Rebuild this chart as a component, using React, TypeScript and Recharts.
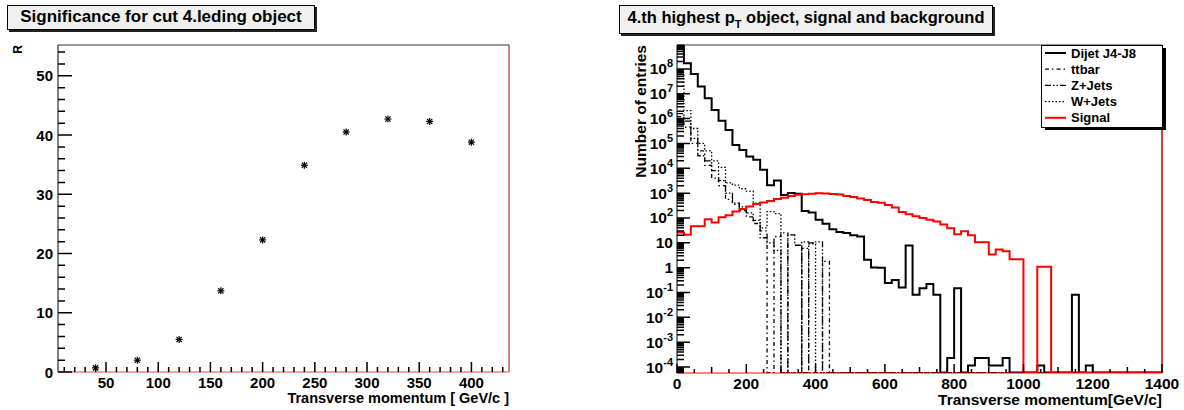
import React from "react";
import {
  ScatterChart,
  Scatter,
  LineChart,
  Line,
  XAxis,
  YAxis,
  ReferenceLine,
  Legend,
} from "recharts";

const FONT = '"Liberation Sans", Arial, Helvetica, sans-serif';

function range(from: number, to: number, step: number): number[] {
  const out: number[] = [];
  for (let v = from; v <= to + 1e-9; v += step) out.push(v);
  return out;
}

// significance scan vs. pT cut
const cutPt = [40, 80, 120, 160, 200, 240, 280, 320, 360, 400];
const significance = [0.7, 2.0, 5.5, 13.7, 22.3, 34.9, 40.5, 42.7, 42.3, 38.8];

const SIG_X_DOMAIN: [number, number] = [4, 436];
const SIG_Y_DOMAIN: [number, number] = [0, 55.2];
const sigXTicks = range(10, 430, 10);
const sigYTicks = range(0, 54, 2);

// 4th leading object pT, 20 GeV bins from 0 to 1400 (missing entries = empty bins)
const BIN_WIDTH = 20;
const N_BINS = 70;
const dijet = [
  2.5e9, 1.7e8, 6.2e7, 1.95e7, 6.6e6, 2.2e6, 8.3e5, 3.5e5, 8.7e4, 5.5e4,
  3.0e4, 2.2e4, 8.7e3, 2.1e3, 3.2e3, 850, 1020, 950, 190, 165,
  85, 58, 35, 27.5, 25, 20, 18, 2.1, 1.02, 1.0,
  0.24, 0.32, 0.16, 7.8, 0.081, 0.15, 0.22, 0.081, 0, 2.3e-4,
  0.15, 0, 1.15e-4, 2.3e-4, 2.3e-4, 1.15e-4, 1.15e-4, 2.3e-4, 0, 0,
  0, 0, 1.15e-4, 0, 0, 0, 0, 0.081, 0, 1.15e-4,
];
const ttbar = [
  1.2e6, 4.5e5, 1.0e5, 5.0e4, 1.3e4, 4.0e3, 2.0e3, 560, 350, 200,
  110, 60, 30, 0, 18, 25, 0, 0, 6, 0,
  0, 1.8,
];
const zjets = [
  1.6e6, 8.0e5, 1.6e5, 3.2e4, 2.0e4, 8.0e3, 3.2e3, 1.0e3, 400, 280,
  160, 80, 16, 10, 5, 0, 21, 8, 0, 10,
  11,
];
const wjets = [
  6.0e7, 2.1e6, 4.0e5, 1.0e5, 5.0e4, 2.0e4, 1.1e4, 2.6e3, 2.1e3, 1.5e3,
  1.2e3, 400, 40, 180, 150, 0, 0, 0, 11, 9,
];
const signal = [
  26, 21, 46, 46, 89, 66, 107, 129, 182, 229,
  288, 363, 417, 479, 575, 660, 776, 871, 912, 955,
  1000, 977, 933, 891, 776, 692, 603, 525, 437, 407,
  331, 263, 174, 141, 117, 100, 85, 72, 55, 39,
  22, 29, 20, 10.5, 10.5, 3.4, 5.4, 4.6, 2.2, 2.2,
  0, 0, 1.1, 1.1,
];

const PT_DOMAIN: [number, number] = [0, 1400];
const Y_MIN = 5.75e-5;
const Y_MAX = 9.2e8;
const EMPTY = 6e-5; // empty bins are drawn on the frame bottom
const ptTicks = range(0, 1400, 50);
const decadeExps = [-5, -4, -3, -2, -1, 0, 1, 2, 3, 4, 5, 6, 7, 8];
const logTicks: number[] = [];
decadeExps.forEach((k) => {
  for (let m = 1; m <= 9; m++) {
    const v = m * Math.pow(10, k);
    if (v >= Y_MIN && v <= Y_MAX) logTicks.push(v);
  }
});

const SERIES = [
  { key: "dijet", name: "Dijet J4-J8", values: dijet, color: "#000000", width: 2, dash: undefined as string | undefined },
  { key: "ttbar", name: "ttbar", values: ttbar, color: "#000000", width: 1.3, dash: "4 3 1.5 3" },
  { key: "zjets", name: "Z+Jets", values: zjets, color: "#000000", width: 1.3, dash: "6 2 1.5 2 1.5 2" },
  { key: "wjets", name: "W+Jets", values: wjets, color: "#000000", width: 1.3, dash: "1.5 2" },
  { key: "signal", name: "Signal", values: signal, color: "#ff0000", width: 2, dash: undefined },
];

const sigPoints = cutPt.map((x, i) => ({ x, y: significance[i] }));

// one row per bin edge; the last edge repeats the last bin for the step line
const histRows = range(0, N_BINS, 1).map((i) => {
  const bin = Math.min(i, N_BINS - 1);
  const row: Record<string, number> = { pt: i * BIN_WIDTH };
  SERIES.forEach((s) => {
    const v = s.values[bin] ?? 0;
    row[s.key] = v > 0 ? v : EMPTY;
  });
  return row;
});

// chart boxes (plot area = size minus margins and axis sizes)
const SIG_LEFT = 0;
const SIG_W = 560, SIG_H = 410, SIG_MARGIN = { top: 45, right: 51, bottom: 0, left: 0 };
const SIG_YAXIS_W = 58, SIG_XAXIS_H = 38;
const HIST_LEFT = 590;
const HIST_W = 594, HIST_H = 410, HIST_MARGIN = { top: 45, right: 22, bottom: 0, left: 0 };
const HIST_YAXIS_W = 87, HIST_XAXIS_H = 37;

const sigBox = {
  x0: SIG_LEFT + SIG_YAXIS_W,
  x1: SIG_LEFT + SIG_W - SIG_MARGIN.right,
  y0: SIG_MARGIN.top,
  y1: SIG_H - SIG_XAXIS_H,
};
const histBox = {
  x0: HIST_LEFT + HIST_YAXIS_W,
  x1: HIST_LEFT + HIST_W - HIST_MARGIN.right,
  y0: HIST_MARGIN.top,
  y1: HIST_H - HIST_XAXIS_H,
};

const isDecade = (v: number) => {
  const e = Math.round(Math.log10(v));
  return Math.abs(v / Math.pow(10, e) - 1) < 1e-6;
};

// inward ROOT-style tick marks for both frames
const TickMarks = () => {
  const sx = (v: number) =>
    sigBox.x0 + ((v - SIG_X_DOMAIN[0]) / (SIG_X_DOMAIN[1] - SIG_X_DOMAIN[0])) * (sigBox.x1 - sigBox.x0);
  const sy = (v: number) =>
    sigBox.y1 - ((v - SIG_Y_DOMAIN[0]) / (SIG_Y_DOMAIN[1] - SIG_Y_DOMAIN[0])) * (sigBox.y1 - sigBox.y0);
  const hx = (v: number) =>
    histBox.x0 + ((v - PT_DOMAIN[0]) / (PT_DOMAIN[1] - PT_DOMAIN[0])) * (histBox.x1 - histBox.x0);
  const lo = Math.log10(Y_MIN), hi = Math.log10(Y_MAX);
  const hy = (v: number) => histBox.y1 - ((Math.log10(v) - lo) / (hi - lo)) * (histBox.y1 - histBox.y0);
  const segs: string[] = [];
  sigXTicks.forEach((v) => {
    const x = sx(v);
    segs.push(`M${x},${sigBox.y1}V${sigBox.y1 - (v % 50 === 0 ? 10 : 5)}`);
  });
  sigYTicks.forEach((v) => {
    const y = sy(v);
    segs.push(`M${sigBox.x0},${y}H${sigBox.x0 + (v % 10 === 0 ? 14 : 7)}`);
  });
  ptTicks.forEach((v) => {
    const x = hx(v);
    const len = v % 200 === 0 ? 9 : v % 100 === 0 ? 6 : 4;
    segs.push(`M${x},${histBox.y1}V${histBox.y1 - len}`);
  });
  logTicks.forEach((v) => {
    const y = hy(v);
    segs.push(`M${histBox.x0},${y}H${histBox.x0 + (isDecade(v) ? 13 : 7)}`);
  });
  return (
    <svg
      width={1184}
      height={410}
      style={{ position: "absolute", left: 0, top: 0, pointerEvents: "none" }}
    >
      <path d={segs.join("")} stroke="#000" strokeWidth={1.5} fill="none" />
    </svg>
  );
};

const labelStyle = { fontFamily: FONT, fontWeight: "bold" as const, fill: "#000" };

const SigXLabel = (props: any) => {
  const v = props.payload.value;
  if (v % 50 !== 0) return <g />;
  return (
    <text x={props.x} y={Number(props.y) + 15.5} textAnchor="middle" fontSize={15} {...labelStyle}>
      {v}
    </text>
  );
};

const SigYLabel = (props: any) => {
  const v = props.payload.value;
  if (v % 10 !== 0) return <g />;
  return (
    <text x={Number(props.x) - 5} y={Number(props.y) + 5.5} textAnchor="end" fontSize={15} {...labelStyle}>
      {v}
    </text>
  );
};

const PtLabel = (props: any) => {
  const v = props.payload.value;
  if (v % 200 !== 0) return <g />;
  return (
    <text x={props.x} y={Number(props.y) + 16} textAnchor="middle" fontSize={15.5} {...labelStyle}>
      {v}
    </text>
  );
};

const LogLabel = (props: any) => {
  const v = props.payload.value;
  if (!isDecade(v)) return <g />;
  const e = Math.round(Math.log10(v));
  return (
    <text x={Number(props.x) - 4} y={Number(props.y) + 5.5} textAnchor="end" fontSize={15.5} {...labelStyle}>
      {e === 0 ? "1" : e === 1 ? "10" : (
        <>
          10
          <tspan dy={-7} fontSize={11}>
            {e}
          </tspan>
        </>
      )}
    </text>
  );
};

const Star = ({ cx, cy }: any) => (
  <g stroke="#000" strokeWidth={1.2}>
    <line x1={cx - 3.5} x2={cx + 3.5} y1={cy} y2={cy} />
    <line x1={cx} x2={cx} y1={cy - 3.5} y2={cy + 3.5} />
    <line x1={cx - 2.6} x2={cx + 2.6} y1={cy - 2.6} y2={cy + 2.6} />
    <line x1={cx - 2.6} x2={cx + 2.6} y1={cy + 2.6} y2={cy - 2.6} />
  </g>
);

const xTitle = (text: string, size: number, dy: number) => (props: any) => {
  const vb = props.viewBox || {};
  return (
    <text x={vb.x + vb.width} y={vb.y + dy} textAnchor="end" fontSize={size} {...labelStyle}>
      {text}
    </text>
  );
};

const yTitle = (text: string, size: number, bx: number) => (props: any) => {
  const vb = props.viewBox || {};
  const x = vb.x + bx;
  const y = vb.y;
  return (
    <text x={x} y={y} transform={`rotate(-90 ${x} ${y})`} textAnchor="end" fontSize={size} {...labelStyle}>
      {text}
    </text>
  );
};

const HistLegend = () => (
  <svg width={128} height={90} style={{ display: "block" }}>
    <rect x={4} y={3} width={121} height={82} fill="#000" />
    <rect x={0.5} y={0.5} width={121} height={82} fill="#fff" stroke="#000" />
    {SERIES.map((s, i) => {
      const y = 8 + 16.2 * i;
      return (
        <g key={s.key}>
          <line x1={4} x2={25} y1={y} y2={y} stroke={s.color} strokeWidth={s.width} strokeDasharray={s.dash} />
          <text x={30} y={y + 4.5} fontSize={13} {...labelStyle}>
            {s.name}
          </text>
        </g>
      );
    })}
  </svg>
);

const TitleBox = ({ left, width, height, children }: any) => (
  <div
    style={{
      position: "absolute",
      left,
      top: 5,
      width,
      height,
      boxSizing: "border-box",
      background: "#f0f0f0",
      border: "1px solid #000",
      boxShadow: "2px 2px 0 #222",
      textAlign: "center",
      font: `bold 17px ${FONT}`,
      lineHeight: "20px",
      paddingTop: 1,
      whiteSpace: "nowrap",
    }}
  >
    {children}
  </div>
);

export default function App() {
  return (
    <div
      style={{
        position: "absolute",
        left: 0,
        top: 0,
        width: 1184,
        height: 410,
        background: "#fff",
        overflow: "hidden",
        fontFamily: FONT,
      }}
    >
      <div style={{ position: "absolute", left: SIG_LEFT, top: 0 }}>
        <ScatterChart width={SIG_W} height={SIG_H} margin={SIG_MARGIN}>
          <XAxis
            type="number"
            dataKey="x"
            domain={SIG_X_DOMAIN}
            allowDataOverflow
            ticks={sigXTicks}
            interval={0}
            tickSize={0}
            tickMargin={0}
            tickLine={false}
            tick={SigXLabel}
            height={SIG_XAXIS_H}
            axisLine={{ stroke: "#e04848" }}
            label={xTitle("Transverse momentum [ GeV/c ]", 14.5, 31)}
          />
          <YAxis
            type="number"
            dataKey="y"
            domain={SIG_Y_DOMAIN}
            allowDataOverflow
            ticks={sigYTicks}
            interval={0}
            tickSize={0}
            tickMargin={0}
            tickLine={false}
            tick={SigYLabel}
            width={SIG_YAXIS_W}
            axisLine={{ stroke: "#000" }}
            label={yTitle("R", 12, 22)}
          />
          <ReferenceLine y={SIG_Y_DOMAIN[1]} stroke="#333" />
          <ReferenceLine x={SIG_X_DOMAIN[1]} stroke="#a00000" />
          <Scatter data={sigPoints} shape={Star} isAnimationActive={false} />
        </ScatterChart>
      </div>

      <div style={{ position: "absolute", left: HIST_LEFT, top: 0 }}>
        <LineChart width={HIST_W} height={HIST_H} data={histRows} margin={HIST_MARGIN}>
          <XAxis
            type="number"
            dataKey="pt"
            domain={PT_DOMAIN}
            allowDataOverflow
            ticks={ptTicks}
            interval={0}
            tickSize={0}
            tickMargin={0}
            tickLine={false}
            tick={PtLabel}
            height={HIST_XAXIS_H}
            axisLine={{ stroke: "#ff0000" }}
            label={xTitle("Transverse momentum[GeV/c]", 15.5, 32)}
          />
          <YAxis
            type="number"
            scale="log"
            domain={[Y_MIN, Y_MAX]}
            allowDataOverflow
            ticks={logTicks}
            interval={0}
            tickSize={0}
            tickMargin={0}
            tickLine={false}
            tick={LogLabel}
            width={HIST_YAXIS_W}
            axisLine={{ stroke: "#000" }}
            label={yTitle("Number of entries", 15.5, 56)}
          />
          <ReferenceLine y={Y_MAX} stroke="#333" />
          <ReferenceLine x={PT_DOMAIN[1]} stroke="#c00000" strokeWidth={1.5} />
          {SERIES.map((s) => (
            <Line
              key={s.key}
              dataKey={s.key}
              name={s.name}
              type="stepAfter"
              stroke={s.color}
              strokeWidth={s.width}
              strokeDasharray={s.dash}
              dot={false}
              activeDot={false}
              isAnimationActive={false}
            />
          ))}
          {/* centred + middle keeps the legend from reserving plot space */}
          <Legend
            content={() => <HistLegend />}
            layout="horizontal"
            align="center"
            verticalAlign="middle"
            wrapperStyle={{ left: 451, top: 45, width: 128, height: 90 }}
          />
        </LineChart>
      </div>

      <TickMarks />

      <TitleBox left={7} width={308} height={25}>
        Significance for cut 4.leding object
      </TitleBox>
      <TitleBox left={619} width={374} height={29}>
        <span style={{ fontSize: 16.5 }}>
          4.th highest p
          <sub style={{ fontSize: 11, verticalAlign: -5, lineHeight: 0 }}>T</sub> object, signal and background
        </span>
      </TitleBox>
    </div>
  );
}
